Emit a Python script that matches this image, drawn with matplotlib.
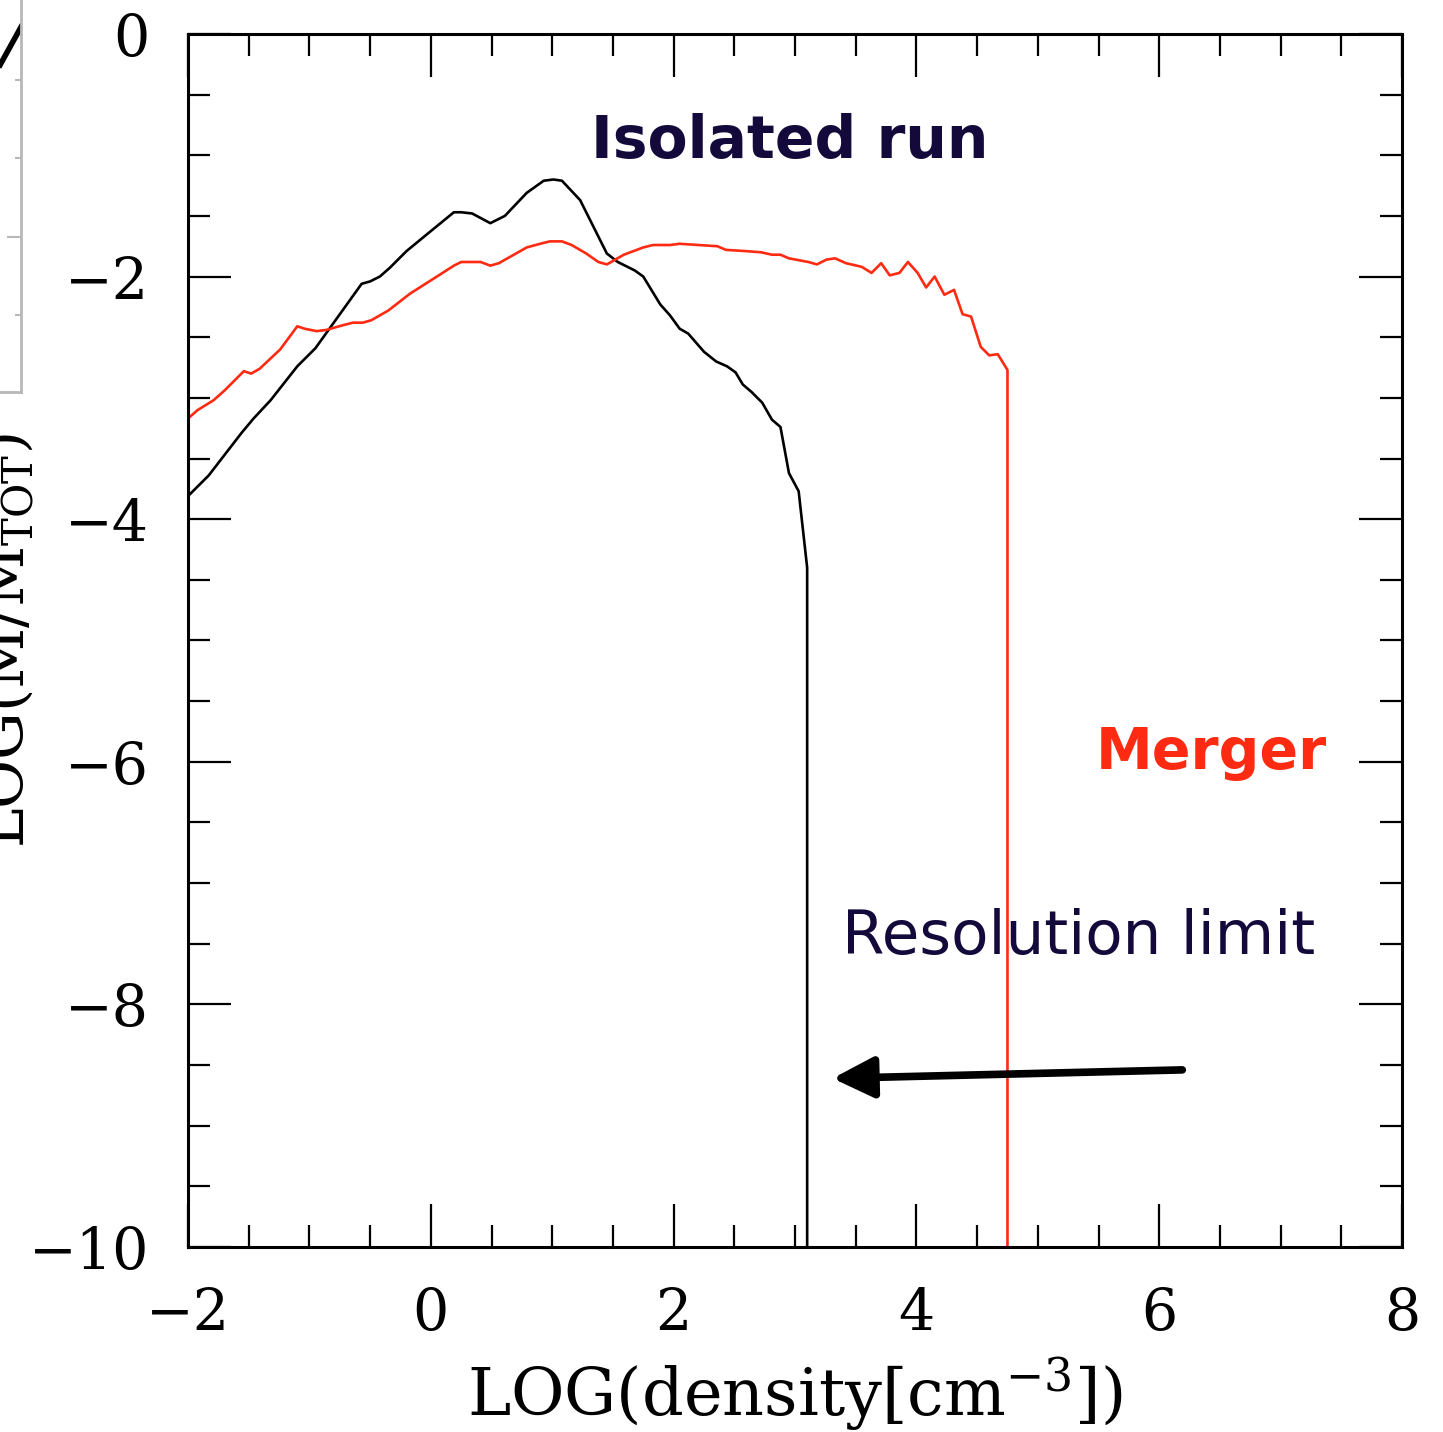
import numpy as np
import matplotlib
matplotlib.use("Agg")
import matplotlib.pyplot as plt
from matplotlib.ticker import MultipleLocator

# Mass-weighted density PDFs, log(M/M_tot) against log(n)
iso_logn = [-2.00, -1.83, -1.56, -1.46, -1.32, -1.10, -0.95, -0.57, -0.50, -0.42,
            -0.34, -0.20, -0.03, 0.19, 0.25, 0.34, 0.49, 0.61, 0.79, 0.93,
            1.01, 1.08, 1.23, 1.45, 1.54, 1.68, 1.75, 1.89, 1.97, 2.05,
            2.12, 2.25, 2.35, 2.44, 2.51, 2.57, 2.64, 2.73, 2.81, 2.88,
            2.95, 3.03, 3.10, 3.10]
iso_logm = [-3.81, -3.64, -3.29, -3.17, -3.02, -2.74, -2.59, -2.06, -2.04, -2.00,
            -1.93, -1.79, -1.65, -1.47, -1.47, -1.48, -1.56, -1.50, -1.31, -1.21,
            -1.20, -1.21, -1.37, -1.81, -1.88, -1.95, -2.00, -2.23, -2.32, -2.43,
            -2.47, -2.62, -2.70, -2.74, -2.79, -2.89, -2.95, -3.04, -3.18, -3.24,
            -3.62, -3.77, -4.40, -10.0]

mrg_logn = [-2.00, -1.92, -1.79, -1.70, -1.61, -1.54, -1.48, -1.41, -1.24, -1.10,
            -1.04, -0.94, -0.86, -0.72, -0.64, -0.56, -0.49, -0.35, -0.17, 0.05,
            0.19, 0.25, 0.41, 0.49, 0.56, 0.79, 0.90, 0.98, 1.08, 1.16,
            1.28, 1.38, 1.45, 1.59, 1.75, 1.83, 1.97, 2.05, 2.36, 2.43,
            2.59, 2.72, 2.81, 2.88, 2.95, 3.11, 3.18, 3.26, 3.33, 3.42,
            3.55, 3.63, 3.71, 3.78, 3.86, 3.93, 4.01, 4.08, 4.15, 4.23,
            4.31, 4.38, 4.45, 4.53, 4.60, 4.67, 4.75, 4.75]
mrg_logm = [-3.17, -3.10, -3.02, -2.94, -2.85, -2.78, -2.80, -2.76, -2.60, -2.41,
            -2.43, -2.45, -2.44, -2.40, -2.38, -2.38, -2.36, -2.28, -2.14, -2.00,
            -1.91, -1.88, -1.88, -1.91, -1.89, -1.76, -1.73, -1.71, -1.71, -1.74,
            -1.81, -1.88, -1.90, -1.82, -1.76, -1.74, -1.74, -1.73, -1.75, -1.78,
            -1.79, -1.80, -1.82, -1.82, -1.85, -1.88, -1.90, -1.86, -1.85, -1.89,
            -1.92, -1.97, -1.89, -1.99, -1.97, -1.88, -1.97, -2.09, -2.00, -2.15,
            -2.11, -2.31, -2.33, -2.58, -2.65, -2.64, -2.77, -10.0]

arrow_tail = (6.19, -8.54)
arrow_head = (3.31, -8.61)

NAVY = "#13093b"
RED = "#ff2a12"
GREY = "#b8b8b8"

plt.rcParams["font.family"] = "DejaVu Serif"
plt.rcParams["mathtext.fontset"] = "dejavuserif"

fig = plt.figure(figsize=(14.43, 14.32), dpi=100)
ax = fig.add_axes([0.1303, 0.1292, 0.8413, 0.8471])

ax.plot(iso_logn, iso_logm, color="black", lw=1.9)
ax.plot(mrg_logn, mrg_logm, color=RED, lw=1.9)

ax.set_xlim(-2, 8)
ax.set_ylim(-10, 0)
ax.xaxis.set_major_locator(MultipleLocator(2))
ax.xaxis.set_minor_locator(MultipleLocator(0.5))
ax.yaxis.set_major_locator(MultipleLocator(2))
ax.yaxis.set_minor_locator(MultipleLocator(0.5))
ax.tick_params(which="both", direction="in", top=True, right=True, width=1.6)
ax.tick_params(which="major", length=31, labelsize=41, pad=28)
ax.tick_params(which="minor", length=16)
for sp in ax.spines.values():
    sp.set_linewidth(2.2)

ax.set_xlabel(r"LOG(density[cm$^{-3}$])", fontsize=47, labelpad=10)

ax.text(2.96, -0.89, "Isolated run", color=NAVY, fontsize=42,
        fontweight="bold", family="DejaVu Sans", ha="center", va="center")
ax.text(6.43, -5.93, "Merger", color=RED, fontsize=41,
        fontweight="bold", family="DejaVu Sans", ha="center", va="center")
ax.text(5.34, -7.45, "Resolution limit", color=NAVY, fontsize=44,
        family="DejaVu Sans", ha="center", va="center")

ax.annotate("", xy=arrow_head, xytext=arrow_tail,
            arrowprops=dict(arrowstyle="-|>,head_length=1.0,head_width=0.5",
                            mutation_scale=25, lw=5.5, color="black",
                            shrinkA=0, shrinkB=0))

# clipped edge of the neighbouring panel on the left
side = fig.add_axes([-0.3, 0.7263, 0.3 + 0.01455, 0.4])
side.set_xlim(0, 1)
side.set_ylim(0, 1)
side.plot([0.954, 1.0], [0.571, 0.637], color="black", lw=4.0)
for name in ("top", "left"):
    side.spines[name].set_visible(False)
for name in ("right", "bottom"):
    side.spines[name].set_color(GREY)
    side.spines[name].set_linewidth(2.0)
side.set_xticks([])
side.set_yticks([0.271])
side.set_yticks([0.134, 0.408, 0.545], minor=True)
side.tick_params(axis="y", which="both", direction="in", left=False, right=True,
                 labelleft=False, color=GREY, width=1.5)
side.tick_params(axis="y", which="major", length=10)
side.tick_params(axis="y", which="minor", length=4.5)
side.patch.set_alpha(0)

fig.text(36 / 1443, 0.553, r"LOG(M/M$_{\rm TOT}$)", rotation=90, fontsize=43,
         ha="right", va="center")

fig.savefig("out.png", dpi=100)
